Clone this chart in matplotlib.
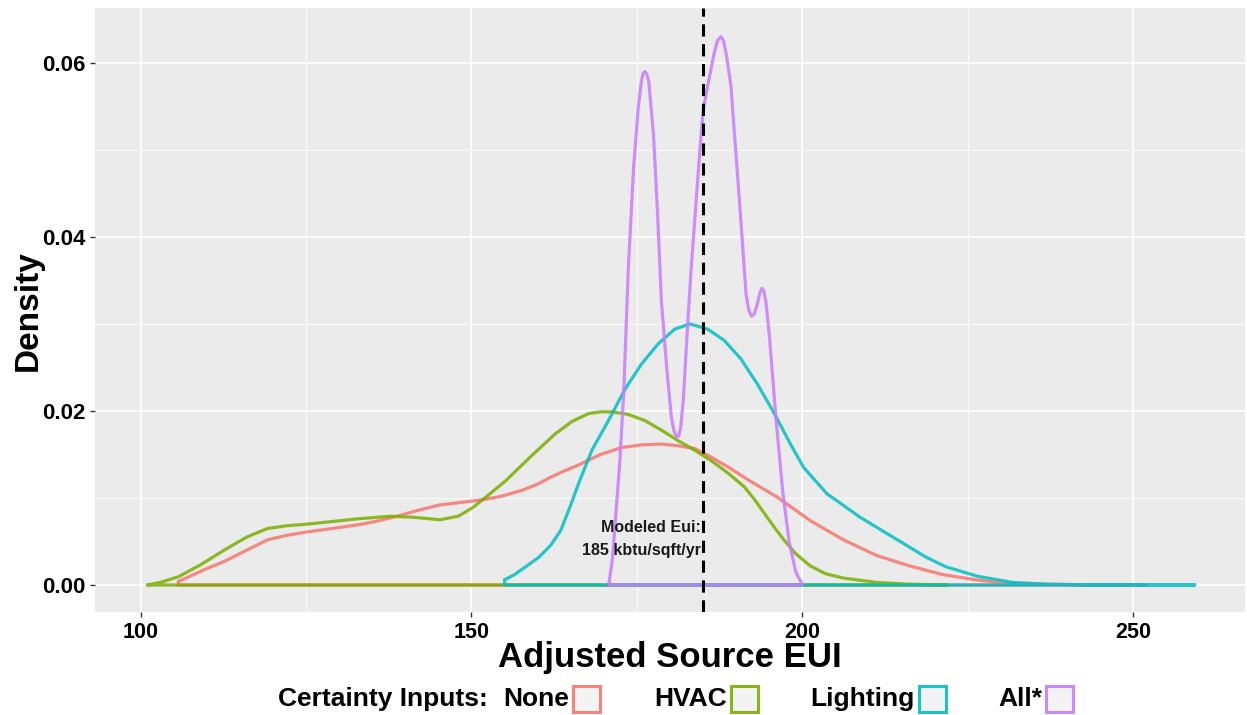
import matplotlib
matplotlib.use("Agg")
import matplotlib.pyplot as plt
from matplotlib.patches import Rectangle

# -------------------------------------------------------
# Data (density curves)
# -------------------------------------------------------

none_x = [105.7, 108, 110, 112.6, 116, 119.2, 122, 125.2, 129, 132.7,
          135.5, 138.7, 142, 145.2, 148.5, 151.7, 154.5, 157.7, 160, 162,
          164, 166.2, 169.5, 172.7, 175.7, 178.7, 181.2, 183.7, 186.2, 188.7,
          192, 196.2, 201.2, 206.2, 211.2, 216.2, 221.2, 226.2, 231, 236, 245, 252]
none_y = [0.0004, 0.0012, 0.0019, 0.0027, 0.0040, 0.0052, 0.0057, 0.0061, 0.0065, 0.0069,
          0.0073, 0.0079, 0.0086, 0.0092, 0.0095, 0.0098, 0.0102, 0.0109, 0.0116, 0.0124,
          0.0131, 0.0138, 0.0150, 0.0158, 0.0161, 0.0162, 0.0160, 0.0157, 0.0147, 0.0136,
          0.0120, 0.0101, 0.0074, 0.0052, 0.0034, 0.0022, 0.0012, 0.0006, 0.0002, 0.0001, 0.0, 0.0]

hvac_x = [101.05, 103, 105.7, 109, 112.6, 116, 119.2, 122, 125.2, 129,
          132.7, 137.7, 141, 145.2, 148, 150.2, 152.5, 155.2, 159, 162.7,
          165.2, 167.7, 169.5, 171.2, 173.7, 176.2, 178.7, 181.2, 183.7, 186.2,
          188.7, 191.2, 192.7, 194.2, 195.7, 197.2, 199, 201.2, 203.5, 206.2, 211.2, 216, 222]
hvac_y = [0.0, 0.0003, 0.00095, 0.0023, 0.0040, 0.0055, 0.0065, 0.0068, 0.0070, 0.0073,
          0.0076, 0.0079, 0.0078, 0.0075, 0.0079, 0.0089, 0.0103, 0.0120, 0.0148, 0.0174,
          0.0188, 0.0197, 0.0199, 0.0199, 0.0196, 0.0189, 0.0178, 0.0166, 0.0155, 0.0143,
          0.0129, 0.0113, 0.0099, 0.0083, 0.0067, 0.0052, 0.0036, 0.0022, 0.0013, 0.0008,
          0.0003, 0.0001, 0.0]

light_x = [155.0, 156.5, 158, 160.2, 162, 163.5, 165, 166.2, 168.2, 170.7,
           173.2, 175.7, 178.2, 180.7, 183.0, 185.7, 188.2, 190.7, 193.2, 195.7,
           198.2, 200.2, 203.7, 208.7, 213.7, 218.7, 221.7, 226.5, 231.8, 236.8, 245, 259.3]
light_y = [0.0006, 0.0012, 0.0020, 0.0032, 0.0046, 0.0063, 0.0092, 0.0117, 0.0155, 0.0189,
           0.0225, 0.0254, 0.0277, 0.0294, 0.0300, 0.0294, 0.0281, 0.0260, 0.0231, 0.0198,
           0.0162, 0.0135, 0.0105, 0.0078, 0.0055, 0.0032, 0.0021, 0.0010, 0.0003, 0.0001, 0.0, 0.0]

all_x = [170.8, 171.3, 171.8, 172.4, 173.0, 173.7, 174.5, 175.2, 175.7, 175.95,
         176.2, 176.5, 176.8, 177.5, 178.1, 178.7, 179.5, 180.2, 180.6, 181.0,
         181.3, 181.6, 182.0, 182.6, 183.2, 184.5, 185.0, 185.7, 186.7, 187.2,
         187.7, 188.1, 188.5, 189.2, 190.5, 191.5, 191.9, 192.3, 192.7, 193.1,
         193.6, 193.9, 194.2, 194.5, 195.0, 196.0, 197.0, 198.0, 199.0, 199.9]
all_y = [0.0003, 0.0030, 0.0080, 0.0140, 0.0220, 0.0364, 0.0480, 0.0548, 0.0580, 0.0588,
         0.0590, 0.0587, 0.0578, 0.0518, 0.0430, 0.0326, 0.0250, 0.0193, 0.0177, 0.0170,
         0.0171, 0.0180, 0.0212, 0.0290, 0.0364, 0.0498, 0.0545, 0.0574, 0.0612, 0.0626,
         0.0630, 0.0625, 0.0610, 0.0574, 0.0441, 0.0334, 0.0316, 0.0309, 0.0311, 0.0320,
         0.0336, 0.0341, 0.0338, 0.0325, 0.0288, 0.0193, 0.0110, 0.0050, 0.0015, 0.0002]

series_names = ["None", "HVAC", "Lighting", "All*"]
series_colors = ["#F8766D", "#7CAE00", "#00BFC4", "#C77CFF"]
series_x = [none_x, hvac_x, light_x, all_x]
series_y = [none_y, hvac_y, light_y, all_y]

modeled_eui = 185

# -------------------------------------------------------
# Figure
# -------------------------------------------------------

plt.rcParams["font.family"] = ["Liberation Sans", "DejaVu Sans"]
plt.rcParams["font.weight"] = "bold"

W, H = 1247, 715
fig = plt.figure(figsize=(W / 100, H / 100), dpi=100)
ax = fig.add_axes([95 / W, 1 - 612 / H, (1245 - 95) / W, (612 - 8) / H])

ax.set_facecolor("#EBEBEB")
for s in ax.spines.values():
    s.set_visible(False)

ax.set_xlim(93.1, 266.9)
ax.set_ylim(-0.0031, 0.0663)

ax.set_xticks([100, 150, 200, 250])
ax.set_xticks([125, 175, 225], minor=True)
ax.set_yticks([0.0, 0.02, 0.04, 0.06])
ax.set_yticks([0.01, 0.03, 0.05], minor=True)
ax.set_yticklabels(["0.00", "0.02", "0.04", "0.06"])

ax.grid(which="major", color="white", linewidth=1.2)
ax.grid(which="minor", color="white", linewidth=0.6)
ax.set_axisbelow(True)

ax.tick_params(which="major", length=3.5, width=1.0, color="#333333",
               labelsize=16, labelcolor="black", pad=3)
ax.tick_params(axis="x", which="major", labelsize=15.5, pad=4)
ax.tick_params(which="minor", length=0)
for lab in ax.get_xticklabels() + ax.get_yticklabels():
    lab.set_fontweight("bold")

# density outlines (closed along the baseline, like geom_density)
for xs, ys, col in zip(series_x, series_y, series_colors):
    px = list(xs) + [xs[-1], xs[0], xs[0]]
    py = list(ys) + [0.0, 0.0, ys[0]]
    ax.plot(px, py, color=col, linewidth=2.3, alpha=0.85,
            solid_joinstyle="round", solid_capstyle="round")

ax.axvline(modeled_eui, color="black", linewidth=2.2, linestyle=(0, (4, 2.5)))
ax.text(modeled_eui - 0.4, 0.0053, "Modeled Eui:\n185 kbtu/sqft/yr",
        ha="right", va="center", fontsize=11.5, fontweight="bold",
        linespacing=1.7, color="#1a1a1a")

# axis titles
fig.text(670 / W, 1 - 667 / H, "Adjusted Source EUI", ha="center", va="baseline",
         fontsize=25, fontweight="bold")
fig.text(28 / W, 1 - 311 / H, "Density", ha="center", va="center",
         rotation=90, fontsize=24, fontweight="bold")

# legend (label on the left of each key)
box_left = [573, 731, 919, 1046]
box_w, box_h = 27, 26
row_y = 699
fig.text(488 / W, 1 - row_y / H, "Certainty Inputs:", ha="right", va="center",
         fontsize=19, fontweight="bold")
for name, col, bx in zip(series_names, series_colors, box_left):
    fig.text((bx - 4) / W, 1 - row_y / H, name, ha="right", va="center",
             fontsize=19, fontweight="bold")
    fig.add_artist(Rectangle((bx / W, 1 - (row_y + box_h / 2) / H),
                             box_w / W, box_h / H, transform=fig.transFigure,
                             facecolor="#F2F2F2", edgecolor=col, linewidth=2.2,
                             alpha=0.9))

fig.savefig("out.png", dpi=100)
